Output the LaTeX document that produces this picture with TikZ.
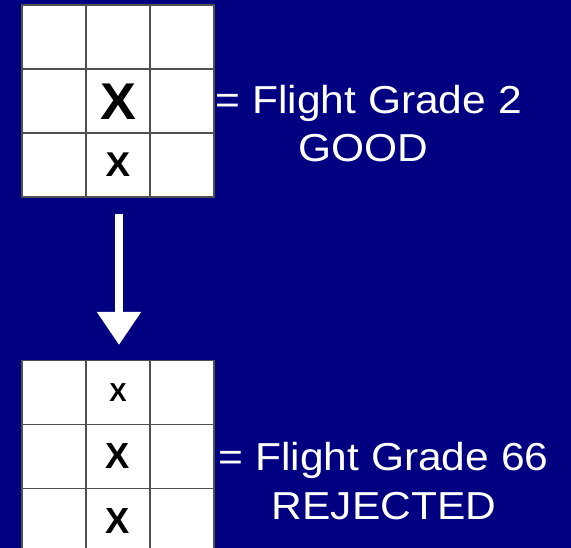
\documentclass[tikz,border=0pt]{standalone}
\usepackage{fontspec}
\setmainfont{Liberation Sans}
\usepackage{graphicx}
\usetikzlibrary{arrows.meta}
\definecolor{navy}{RGB}{0,0,128}
\definecolor{gridline}{RGB}{80,80,80}
\begin{document}
\begin{tikzpicture}[x=1pt,y=-1pt,
  cell/.style={draw=gridline, line width=1.2pt, fill=white, minimum width=64pt, minimum height=64pt, inner sep=0pt, outer sep=0pt, anchor=center},
  xletter/.style={inner sep=0pt, text=black, anchor=center},
  caption/.style={text=white, inner sep=0pt, anchor=base west, font=\fontsize{39}{46}\selectfont}]
\fill[navy] (0,0) rectangle (571,548);
\useasboundingbox (0,0) rectangle (571,548);
% top grid
\foreach \c/\x in {1/54,2/118,3/182}{
  \foreach \r/\y in {1/37,2/101,3/165}{
    \node[cell] (t\r\c) at (\x,\y) {};
  }
}
% bottom grid
\foreach \c/\x in {1/54,2/118,3/182}{
  \foreach \r/\y in {1/392.5,2/456.5,3/520.5}{
    \node[cell] (b\r\c) at (\x,\y) {};
  }
}
% X marks
\node[xletter, font=\fontsize{51.7}{60}\bfseries] (xt2) at (118.5,101.5) {\scalebox{1.04}[1]{X}};
\node[xletter, font=\fontsize{34.4}{40}\bfseries] (xt3) at (118,165) {\scalebox{1.07}[1]{X}};
\node[xletter, font=\fontsize{26}{30}\bfseries] (xb1) at (118,392.7) {X};
\node[xletter, font=\fontsize{36.3}{42}\bfseries] (xb2) at (118,456.3) {X};
\node[xletter, font=\fontsize{36.3}{42}\bfseries] (xb3) at (118,521) {X};
% arrow
\coordinate (as) at (119,214);
\coordinate (ae) at (119,345);
\draw[white, line width=8pt, -{Triangle[width=42pt,length=33pt]}] (as) -- (ae);
% captions
\node[caption] (c1) at (215.5,114) {\scalebox{1.09}[1]{= Flight Grade 2}};
\node[caption] (c2) at (298.5,161.5) {\scalebox{1.09}[1]{GOOD}};
\node[caption] (c3) at (218.5,471) {\scalebox{1.09}[1]{= Flight Grade 66}};
\node[caption] (c4) at (271.5,519) {\scalebox{1.09}[1]{REJECTED}};
\end{tikzpicture}
\end{document}
